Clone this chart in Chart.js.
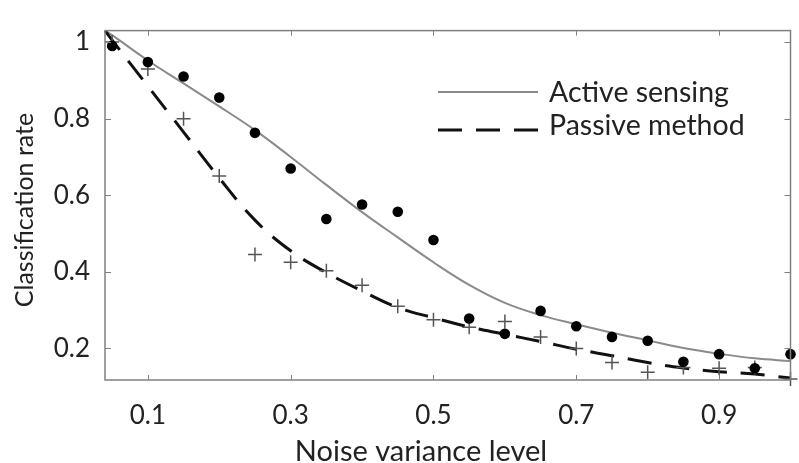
<!DOCTYPE html>
<html>
<head>
<meta charset="utf-8">
<script src="https://cdn.jsdelivr.net/npm/chart.js@4"></script>
<style>
  html, body { margin: 0; padding: 0; background: #fff; }
  #wrap { width: 799px; height: 463px; }
</style>
</head>
<body>
<div id="wrap"><canvas id="myChart"></canvas></div>
<script>
// measured points
var noiseLevels = [0.05, 0.1, 0.15, 0.2, 0.25, 0.3, 0.35, 0.4, 0.45, 0.5,
                   0.55, 0.6, 0.65, 0.7, 0.75, 0.8, 0.85, 0.9, 0.95, 1.0];
var activeRates = [0.99, 0.948, 0.91, 0.855, 0.763, 0.67, 0.538, 0.576, 0.557, 0.483,
                   0.278, 0.238, 0.298, 0.258, 0.23, 0.22, 0.165, 0.185, 0.148, 0.185];
var passiveRates = [1.0, 0.93, 0.8, 0.65, 0.445, 0.425, 0.403, 0.365, 0.31, 0.275,
                    0.255, 0.27, 0.23, 0.2, 0.163, 0.138, 0.15, 0.148, 0.15, 0.12];

// fitted curves
var fitLevels = [0.04, 0.05, 0.1, 0.15, 0.2, 0.25, 0.3, 0.35, 0.4, 0.45, 0.5,
                 0.55, 0.6, 0.65, 0.7, 0.75, 0.8, 0.85, 0.9, 0.95, 1.0];
var activeFit = [1.03, 1.018, 0.952, 0.892, 0.832, 0.77, 0.70, 0.627, 0.556, 0.49, 0.425,
                 0.366, 0.319, 0.287, 0.263, 0.241, 0.221, 0.201, 0.186, 0.174, 0.167];
var passiveFit = [1.03, 1.005, 0.885, 0.765, 0.645, 0.535, 0.455, 0.398, 0.35, 0.307, 0.28,
                  0.256, 0.237, 0.218, 0.198, 0.181, 0.163, 0.149, 0.139, 0.133, 0.1225];

var xTicks = [0.1, 0.3, 0.5, 0.7, 0.9];
var yTicks = [0.2, 0.4, 0.6, 0.8, 1.0];
var seriesNames = ["Active sensing", "Passive method"];
var xTitle = "Noise variance level";
var yTitle = "Classification rate";

var FONT = "Lato";
var TEXT = "#222";
var AXIS = "#808080";

function pairs(xs, ys) {
  return xs.map(function(x, i) { return { x: x, y: ys[i] }; });
}

// box with inward ticks on all four sides, axis titles and legend
var frame = {
  id: "frame",
  afterDatasetsDraw: function(chart) {
    var c = chart.ctx, a = chart.chartArea;
    var xs = chart.scales.x, ys = chart.scales.y;
    c.save();
    c.strokeStyle = AXIS;
    c.lineWidth = 1.5;
    c.strokeRect(a.left, a.top, a.right - a.left, a.bottom - a.top);
    c.lineWidth = 1;
    c.beginPath();
    xTicks.forEach(function(v) {
      var px = Math.round(xs.getPixelForValue(v)) + 0.5;
      c.moveTo(px, a.bottom); c.lineTo(px, a.bottom - 5);
      c.moveTo(px, a.top); c.lineTo(px, a.top + 5);
    });
    yTicks.forEach(function(v) {
      var py = Math.round(ys.getPixelForValue(v)) + 0.5;
      c.moveTo(a.left, py); c.lineTo(a.left + 6, py);
      c.moveTo(a.right, py); c.lineTo(a.right - 6, py);
    });
    c.stroke();

    // axis titles
    c.fillStyle = TEXT;
    c.textAlign = "center";
    c.textBaseline = "alphabetic";
    c.font = "29px " + FONT;
    c.fillText(xTitle, 421, 461);
    c.save();
    c.translate(33, 210);
    c.rotate(-Math.PI / 2);
    c.font = "25px " + FONT;
    c.fillText(yTitle, 0, 0);
    c.restore();

    // legend
    var lx = 438, lw = 100;
    var rows = [92, 130];
    var sets = [chart.data.datasets[2], chart.data.datasets[3]];
    c.textAlign = "left";
    sets.forEach(function(ds, i) {
      c.beginPath();
      c.strokeStyle = ds.borderColor;
      c.lineWidth = ds.borderWidth;
      c.setLineDash(ds.borderDash || []);
      c.moveTo(lx, rows[i]); c.lineTo(lx + lw, rows[i]);
      c.stroke();
      c.setLineDash([]);
      c.fillStyle = TEXT;
      c.font = "28.5px " + FONT;
      c.fillText(seriesNames[i], 549, [102, 135][i]);
    });
    c.restore();
  }
};

var ctx = document.getElementById("myChart");
var myChart = new Chart(ctx, {
  type: "scatter",
  data: {
    datasets: [{
      label: seriesNames[0] + " (data)",
      data: pairs(noiseLevels, activeRates),
      pointStyle: "circle",
      pointRadius: 5.3,
      backgroundColor: "#000",
      borderColor: "#000",
      borderWidth: 0,
      order: 0
    }, {
      label: seriesNames[1] + " (data)",
      data: pairs(noiseLevels, passiveRates),
      pointStyle: "cross",
      pointRadius: 7,
      borderColor: "#555",
      borderWidth: 1.5,
      order: 1
    }, {
      label: seriesNames[0],
      type: "line",
      data: pairs(fitLevels, activeFit),
      showLine: true,
      borderColor: "#8a8a8a",
      borderWidth: 2,
      pointRadius: 0,
      tension: 0.4,
      order: 3
    }, {
      label: seriesNames[1],
      type: "line",
      data: pairs(fitLevels, passiveFit),
      showLine: true,
      borderColor: "#111",
      borderWidth: 3,
      borderDash: [24, 14],
      pointRadius: 0,
      tension: 0.4,
      order: 2
    }]
  },
  options: {
    responsive: true,
    maintainAspectRatio: false,
    animation: false,
    clip: false,
    layout: { padding: { top: 15, right: 2, left: 0, bottom: 0 } },
    plugins: { legend: { display: false }, tooltip: { enabled: false } },
    scales: {
      x: {
        type: "linear",
        min: 0.04,
        max: 1.0,
        afterBuildTicks: function(s) { s.ticks = xTicks.map(function(v) { return { value: v }; }); },
        afterFit: function(s) { s.height = 83; },
        grid: { display: false, drawTicks: false },
        border: { display: false },
        ticks: {
          color: TEXT,
          padding: 20,
          font: { family: FONT, size: 26 },
          callback: function(v) { return v.toFixed(1); }
        },
        title: { display: false, text: xTitle }
      },
      y: {
        type: "linear",
        min: 0.1175,
        max: 1.03,
        afterBuildTicks: function(s) { s.ticks = yTicks.map(function(v) { return { value: v }; }); },
        afterFit: function(s) { s.width = 105; },
        grid: { display: false, drawTicks: false },
        border: { display: false },
        ticks: {
          color: TEXT,
          padding: 15,
          font: { family: FONT, size: 26 },
          callback: function(v) { return v === 1 ? "1" : v.toFixed(1); }
        },
        title: { display: false, text: yTitle }
      }
    }
  },
  plugins: [frame]
});
</script>
</body>
</html>
